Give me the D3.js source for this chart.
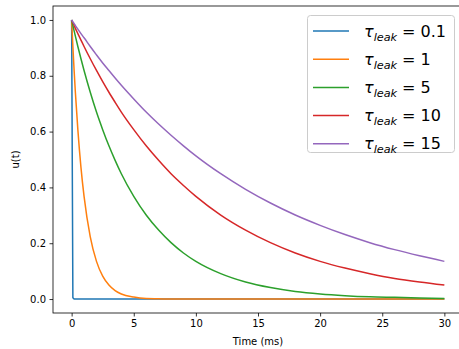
<!DOCTYPE html>
<html><head><meta charset="utf-8">
<script src="https://cdn.jsdelivr.net/npm/d3@7"></script>
<style>body{margin:0;background:#fff}svg{display:block}text{font-family:"DejaVu Sans",sans-serif}</style>
</head><body><svg id="c" width="459" height="349"></svg>
<script>
const times = [0,0.1,0.2,0.3,0.5,0.75,1,1.5,2,2.5,3,3.5,4,5,6,7,8,9,10,12,14,16,18,20,22,24,26,28,30];
const tauLabels = ["0.1","1","5","10","15"];
const u_tau01 = [1,0.005,0,0,0,0,0,0,0,0,0,0,0,0,0,0,0,0,0,0,0,0,0,0,0,0,0,0,0];
const u_tau1  = [1,0.905,0.819,0.741,0.607,0.472,0.368,0.223,0.135,0.082,0.050,0.030,0.018,0.007,0.002,0.001,0,0,0,0,0,0,0,0,0,0,0,0,0];
const u_tau5  = [1,0.980,0.961,0.942,0.905,0.861,0.819,0.741,0.670,0.607,0.549,0.497,0.449,0.368,0.301,0.247,0.202,0.165,0.135,0.091,0.061,0.041,0.027,0.018,0.012,0.008,0.006,0.004,0.002];
const u_tau10 = [1,0.990,0.980,0.970,0.951,0.928,0.905,0.861,0.819,0.779,0.741,0.705,0.670,0.607,0.549,0.497,0.449,0.407,0.368,0.301,0.247,0.202,0.165,0.135,0.111,0.091,0.074,0.061,0.050];
const u_tau15 = [1,0.993,0.987,0.980,0.967,0.951,0.936,0.905,0.875,0.846,0.819,0.792,0.766,0.717,0.670,0.627,0.587,0.549,0.513,0.449,0.393,0.344,0.301,0.264,0.231,0.202,0.177,0.155,0.135];
const xTicks = [0,5,10,15,20,25,30];
const yTicks = [0,0.2,0.4,0.6,0.8,1.0];
const colors = ["#1f77b4","#ff7f0e","#2ca02c","#d62728","#9467bd"];
const series = [u_tau01,u_tau1,u_tau5,u_tau10,u_tau15];

const svg = d3.select("#c");
const L=53, R=463, T=6, B=313;
const x = d3.scaleLinear().domain([-1.5,31.5]).range([L,R]);
const y = d3.scaleLinear().domain([-0.05,1.05]).range([B,T]);

svg.append("defs").append("clipPath").attr("id","pc").append("rect")
  .attr("x",L).attr("y",T).attr("width",R-L).attr("height",B-T);

const smooth = d3.line().x((d,i)=>x(times[i])).y(d=>y(d)).curve(d3.curveMonotoneX);
const straight = d3.line().x((d,i)=>x(times[i])).y(d=>y(d));
const g = svg.append("g").attr("clip-path","url(#pc)");
series.forEach((s,k)=>{
  g.append("path").attr("d",(k===0?straight:smooth)(s)).attr("fill","none")
    .attr("stroke",colors[k]).attr("stroke-width",1.5).attr("stroke-linejoin","round");
});

const xa = svg.append("g").attr("transform",`translate(0,${B})`)
  .call(d3.axisBottom(x).tickValues(xTicks).tickFormat(d3.format("d")).tickSize(3.5).tickPadding(3.5));
const ya = svg.append("g").attr("transform",`translate(${L},0)`)
  .call(d3.axisLeft(y).tickValues(yTicks).tickFormat(d3.format(".1f")).tickSize(3.5).tickPadding(3.5));
[xa,ya].forEach(a=>{
  a.select(".domain").remove();
  a.selectAll("line").attr("stroke","#000").attr("stroke-width",0.8);
  a.selectAll("text").attr("font-size",10).attr("fill","#000").attr("font-family","DejaVu Sans");
});
svg.append("rect").attr("x",L).attr("y",T).attr("width",R-L).attr("height",B-T)
  .attr("fill","none").attr("stroke","#000").attr("stroke-width",0.8);

svg.append("text").attr("x",(L+R)/2).attr("y",345).attr("text-anchor","middle").attr("font-size",10).text("Time (ms)");
svg.append("text").attr("transform",`translate(19,${(T+B)/2}) rotate(-90)`).attr("text-anchor","middle").attr("font-size",10).text("u(t)");

const lg = svg.append("g");
lg.append("rect").attr("x",307.5).attr("y",15.5).attr("width",147).attr("height",137).attr("rx",3)
  .attr("fill","#fff").attr("fill-opacity",0.8).attr("stroke","#ccc").attr("stroke-width",1);
tauLabels.forEach((lab,k)=>{
  const cy = 31 + k*28.2;
  lg.append("line").attr("x1",313).attr("x2",349).attr("y1",cy).attr("y2",cy).attr("stroke",colors[k]).attr("stroke-width",1.5);
  const t = lg.append("text").attr("x",364).attr("y",cy+5.5).attr("font-size",16).style("white-space","pre");
  t.append("tspan").attr("font-style","italic").text("τ");
  t.append("tspan").attr("font-style","italic").attr("font-size",11.2).attr("dy",4).text("leak");
  t.append("tspan").attr("dy",-4).text(" = " + lab);
});
</script></body></html>
